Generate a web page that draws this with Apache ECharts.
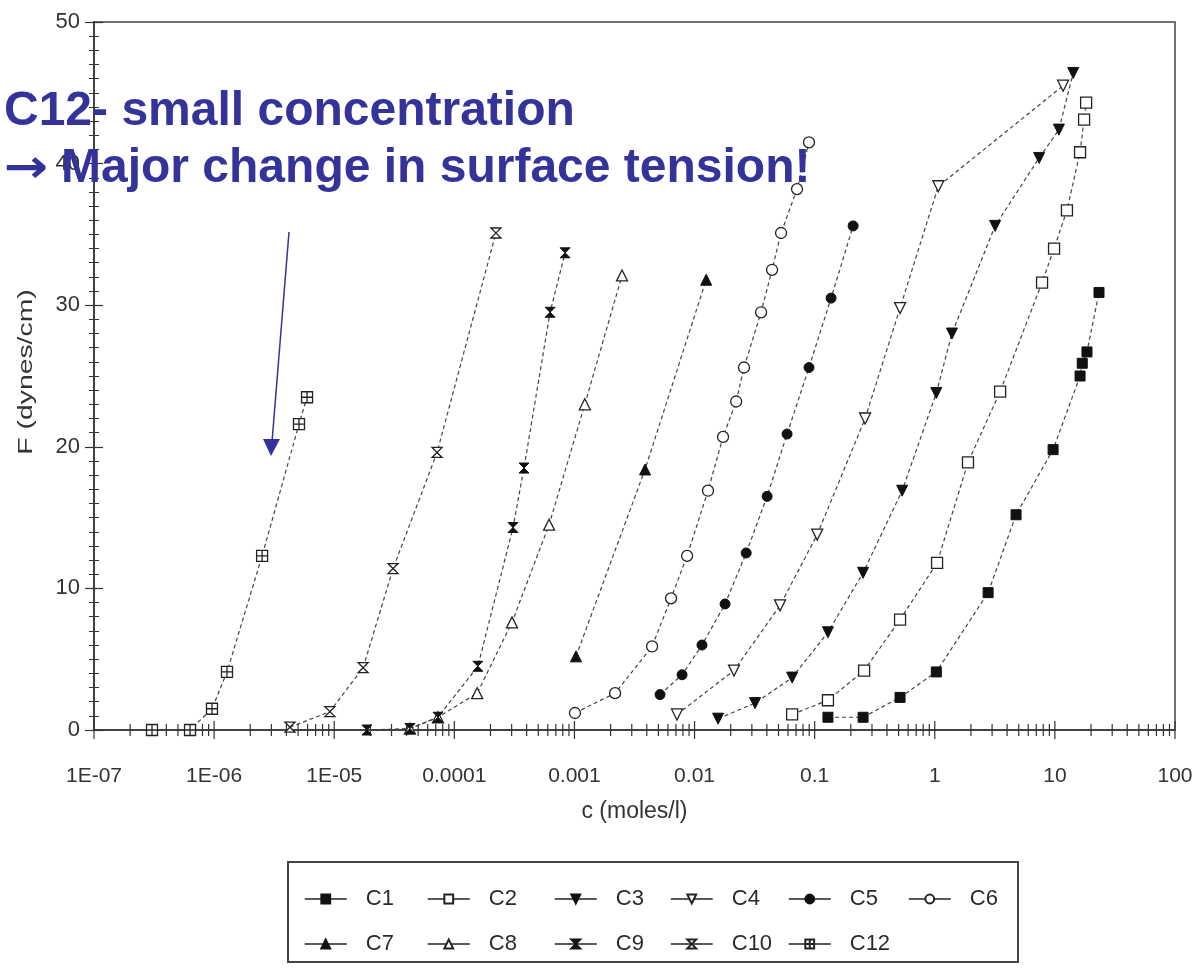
<!DOCTYPE html>
<html>
<head>
<meta charset="utf-8">
<script src="https://cdn.jsdelivr.net/npm/echarts@6/dist/echarts.min.js"></script>
<style>
html,body{margin:0;padding:0;background:#fff;}
#chart{width:1200px;height:974px;}
</style>
</head>
<body>
<div id="chart"></div>
<script>
// ---- data (c in moles/l, F in dynes/cm) ----
const seriesNames = ['C1','C2','C3','C4','C5','C6','C7','C8','C9','C10','C12'];

const c1_c = [0.129, 0.253, 0.514, 1.03, 2.78, 4.75, 9.66, 16.2, 16.9, 18.5, 23.3];
const c1_F = [0.9, 0.9, 2.3, 4.1, 9.7, 15.2, 19.8, 25.0, 25.9, 26.7, 30.9];

const c2_c = [0.0649, 0.129, 0.258, 0.514, 1.045, 1.89, 3.50, 7.82, 9.84, 12.6, 16.2, 17.5, 18.2];
const c2_F = [1.1, 2.1, 4.2, 7.8, 11.8, 18.9, 23.9, 31.6, 34.0, 36.7, 40.8, 43.1, 44.3];

const c3_c = [0.0157, 0.0319, 0.0649, 0.129, 0.253, 0.535, 1.03, 1.39, 3.18, 7.39, 10.8, 14.2];
const c3_F = [0.8, 1.9, 3.7, 6.9, 11.1, 16.9, 23.8, 28.0, 35.6, 40.4, 42.4, 46.4];

const c4_c = [0.00714, 0.0213, 0.0515, 0.105, 0.263, 0.514, 1.07, 11.7];
const c4_F = [1.1, 4.2, 8.8, 13.8, 22.0, 29.8, 38.4, 45.5];

const c5_c = [0.00516, 0.00787, 0.01153, 0.01795, 0.0269, 0.0402, 0.0589, 0.0897, 0.137, 0.209];
const c5_F = [2.5, 3.9, 6.0, 8.9, 12.5, 16.5, 20.9, 25.6, 30.5, 35.6];

const c6_c = [0.00101, 0.00218, 0.00443, 0.00637, 0.00867, 0.01294, 0.01726, 0.0222, 0.0258, 0.0358, 0.0442, 0.0525, 0.0713, 0.0897];
const c6_F = [1.2, 2.6, 5.9, 9.3, 12.3, 16.9, 20.7, 23.2, 25.6, 29.5, 32.5, 35.1, 38.2, 41.5];

const c7_c = [0.00103, 0.00387, 0.0125];
const c7_F = [5.2, 18.4, 31.8];

const c8_c = [4.27e-5, 7.31e-5, 1.55e-4, 3.02e-4, 6.15e-4, 1.22e-3, 2.49e-3];
const c8_F = [0.1, 0.9, 2.6, 7.6, 14.5, 23.0, 32.1];

const c9_c = [1.87e-5, 4.27e-5, 7.31e-5, 1.57e-4, 3.08e-4, 3.80e-4, 6.27e-4, 8.36e-4];
const c9_F = [0, 0.1, 0.9, 4.5, 14.3, 18.5, 29.5, 33.7];

const c10_c = [4.28e-6, 9.2e-6, 1.74e-5, 3.09e-5, 7.18e-5, 2.22e-4];
const c10_F = [0.2, 1.3, 4.4, 11.4, 19.6, 35.1];

const c12_c = [3.04e-7, 6.3e-7, 9.6e-7, 1.28e-6, 2.51e-6, 5.09e-6, 5.94e-6];
const c12_F = [0, 0, 1.5, 4.1, 12.3, 21.6, 23.5];

const xTickLabels = ['1E-07','1E-06','1E-05','0.0001','0.001','0.01','0.1','1','10','100'];
const yTickMin = 0, yTickMax = 50, yTickStep = 10;

// ---- build ----
const allC = [c1_c,c2_c,c3_c,c4_c,c5_c,c6_c,c7_c,c8_c,c9_c,c10_c,c12_c];
const allF = [c1_F,c2_F,c3_F,c4_F,c5_F,c6_F,c7_F,c8_F,c9_F,c10_F,c12_F];

const HOUR = 'path://M0,0L10,0L0,10L10,10Z';
const BOXCROSS = 'path://M0,0H10V10H0Z M5,0V10 M0,5H10';
const markerDefs = [
  {symbol:'rect', filled:true, size:10, rot:0},
  {symbol:'rect', filled:false, size:11, rot:0},
  {symbol:'triangle', filled:true, size:11, rot:180},
  {symbol:'triangle', filled:false, size:11, rot:180},
  {symbol:'circle', filled:true, size:10, rot:0},
  {symbol:'circle', filled:false, size:11, rot:0},
  {symbol:'triangle', filled:true, size:11, rot:0},
  {symbol:'triangle', filled:false, size:11, rot:0},
  {symbol:HOUR, filled:true, size:10, rot:0},
  {symbol:HOUR, filled:false, size:10, rot:0},
  {symbol:BOXCROSS, filled:false, size:11, rot:0}
];

const FONT = '"Liberation Sans", Arial, sans-serif';

const series = seriesNames.map((name, i) => {
  const m = markerDefs[i];
  return {
    name: name,
    type: 'line',
    data: allC[i].map((c, j) => [c, allF[i][j]]),
    symbol: m.symbol,
    symbolSize: m.size,
    symbolRotate: m.rot,
    showAllSymbol: true,
    lineStyle: {color:'#444', width:1.2, type:[4,3]},
    itemStyle: m.filled ? {color:'#111', borderColor:'#111', borderWidth:1}
                        : {color:'#fff', borderColor:'#222', borderWidth:1.3},
    emphasis: {disabled:true},
    z: 3
  };
});

// x-axis ticks (log decades with minor ticks), drawn through the axis scale
const tickVals = [];
for (let k = -7; k <= 1; k++) {
  for (let m = 1; m <= 9; m++) tickVals.push([m * Math.pow(10, k), m === 1 ? 1 : 0]);
}
tickVals.push([100, 1]);

series.push({
  name: 'xticks',
  type: 'custom',
  data: tickVals,
  clip: false,
  silent: true,
  z: 2,
  renderItem: function (params, api) {
    const p = api.coord([api.value(0), 0]);
    const h = api.value(1) ? 9 : 6;
    return {type:'line', shape:{x1:p[0], y1:p[1]-h, x2:p[0], y2:p[1]+h},
            style:{stroke:'#333', lineWidth:1.2}};
  }
});

const legendCols = [299, 422, 549, 665, 783, 903];
const legendRows = [883, 928];
const legends = seriesNames.map((name, i) => {
  const row = i < 6 ? 0 : 1;
  const col = i < 6 ? i : i - 6;
  return {
    data: [name],
    left: legendCols[col],
    top: legendRows[row],
    itemWidth: 42,
    itemHeight: 11,
    selectedMode: false,
    lineStyle: {type:'solid', color:'#222', width:1.5},
    textStyle: {fontSize:22, color:'#2a2a2a', fontFamily:FONT, padding:[0,0,0,14]}
  };
});

const chart = echarts.init(document.getElementById('chart'), null, {renderer:'canvas'});
chart.setOption({
  animation: false,
  backgroundColor: '#fff',
  grid: {left:94, right:25, top:22, bottom:244, show:true, borderColor:'#444', borderWidth:1.5, backgroundColor:'transparent'},
  legend: legends,
  xAxis: {
    type: 'log', logBase: 10, min: 1e-7, max: 100, splitNumber: 9,
    name: 'c (moles/l)', nameLocation: 'middle', nameGap: 70,
    nameTextStyle: {fontSize:23, color:'#333', fontFamily:FONT},
    axisLine: {show:true, lineStyle:{color:'#333', width:1.5}},
    axisTick: {show:false},
    splitLine: {show:false},
    axisLabel: {
      margin: 36, fontSize: 21, color:'#333', fontFamily:FONT,
      formatter: function (v) {
        const e = Math.round(Math.log10(v));
        return xTickLabels[e + 7] || '';
      }
    }
  },
  yAxis: [{
    type: 'value', min: yTickMin, max: yTickMax, interval: yTickStep, position:'left',
    axisLine: {show:true, lineStyle:{color:'#333', width:1.5}},
    axisTick: {show:true, length:9, lineStyle:{color:'#333', width:1.2}},
    minorTick: {show:true, splitNumber:10, length:5, lineStyle:{color:'#333', width:1}},
    splitLine: {show:false},
    axisLabel: {margin:14, fontSize:22, color:'#333', fontFamily:FONT}
  }, {
    type: 'value', min: yTickMin, max: yTickMax, interval: yTickStep, position:'left', offset:0,
    axisLine: {show:false},
    axisTick: {show:true, inside:true, length:9, lineStyle:{color:'#333', width:1.2}},
    minorTick: {show:true, splitNumber:10, length:5, lineStyle:{color:'#333', width:1}},
    splitLine: {show:false},
    axisLabel: {show:false}
  }],
  series: series,
  graphic: [
    {type:'rect', shape:{x:288, y:862, width:730, height:100},
     style:{fill:'none', stroke:'#444', lineWidth:2}, z:1},
    {type:'text', x:26, y:372, rotation:Math.PI/2, scaleX:1.35,
     style:{text:'F (dynes/cm)', font:'21px ' + FONT, fill:'#333', textAlign:'center', textVerticalAlign:'middle'}, z:5},
    {type:'line', shape:{x1:289, y1:232, x2:272, y2:442},
     style:{stroke:'#33339a', lineWidth:1.5}, z:10},
    {type:'polygon', shape:{points:[[263,439],[280,439],[271,456]]},
     style:{fill:'#33339a'}, z:10},
    {type:'text', x:4, y:112,
     style:{text:'C12- small concentration', font:'bold 48px ' + FONT, fill:'#33339a', textAlign:'left', textVerticalAlign:'middle'}, z:10},
    {type:'text', x:4, y:170, scaleX:1.15,
     style:{text:'\u2192', font:'bold 46px "DejaVu Sans", sans-serif', fill:'#33339a', textAlign:'left', textVerticalAlign:'middle'}, z:10},
    {type:'text', x:61, y:169,
     style:{text:'Major change in surface tension!', font:'bold 48px ' + FONT, fill:'#33339a', textAlign:'left', textVerticalAlign:'middle'}, z:10}
  ]
});
</script>
</body>
</html>
